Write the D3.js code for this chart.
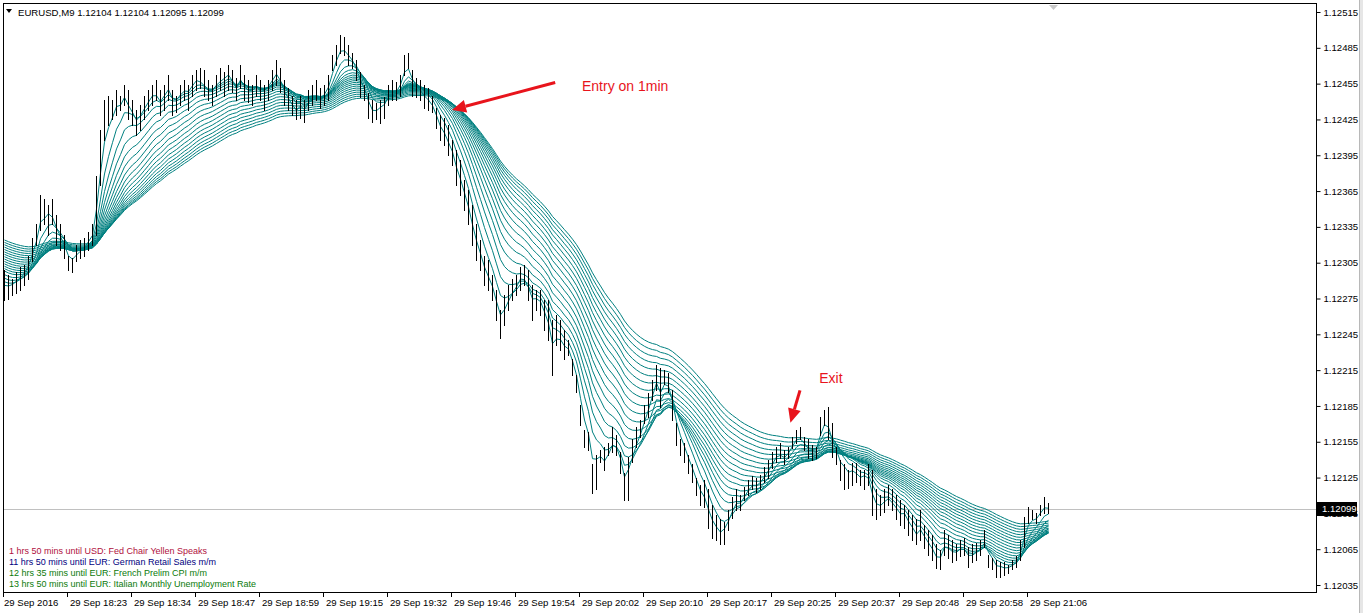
<!DOCTYPE html>
<html>
<head>
<meta charset="utf-8">
<script src="https://cdn.jsdelivr.net/npm/d3@7/dist/d3.min.js"></script>
<style>
    body { margin: 0; background: #fff; overflow: hidden; }
    svg { display: block; font-family: "Liberation Sans", Arial, sans-serif; }
</style>
</head>
<body>
<svg class="chart"></svg>
<script>

// EURUSD,M9 bars (one entry per bar, left to right)
var highs = [
    1.12299,1.12295,1.12291,1.12297,1.12301,1.12303,1.12311,1.12326,1.12337,1.12362,
    1.12358,1.12353,1.12358,1.12345,1.12337,1.12328,1.12311,1.12309,1.12320,1.12324,
    1.12326,1.12331,1.12337,1.12378,1.12416,1.12441,1.12445,1.12441,1.12450,1.12445,
    1.12454,1.12450,1.12441,1.12433,1.12437,1.12445,1.12450,1.12454,1.12458,1.12450,
    1.12454,1.12462,1.12450,1.12445,1.12454,1.12458,1.12454,1.12462,1.12466,1.12468,
    1.12466,1.12458,1.12454,1.12462,1.12468,1.12465,1.12471,1.12466,1.12460,1.12471,
    1.12462,1.12458,1.12454,1.12462,1.12458,1.12454,1.12458,1.12466,1.12475,1.12468,
    1.12458,1.12451,1.12445,1.12441,1.12445,1.12441,1.12450,1.12454,1.12458,1.12451,
    1.12454,1.12462,1.12479,1.12487,1.12496,1.12494,1.12487,1.12481,1.12475,1.12465,
    1.12454,1.12447,1.12441,1.12439,1.12441,1.12444,1.12454,1.12458,1.12456,1.12462,
    1.12479,1.12481,1.12466,1.12460,1.12458,1.12454,1.12451,1.12445,1.12435,1.12429,
    1.12426,1.12420,1.12408,1.12399,1.12391,1.12374,1.12366,1.12353,1.12337,1.12324,
    1.12311,1.12307,1.12295,1.12282,1.12265,1.12278,1.12286,1.12291,1.12295,1.12301,
    1.12303,1.12299,1.12286,1.12282,1.12282,1.12274,1.12274,1.12257,1.12261,1.12257,
    1.12249,1.12240,1.12224,1.12211,1.12186,1.12165,1.12163,1.12136,1.12144,1.12148,
    1.12151,1.12154,1.12167,1.12161,1.12146,1.12129,1.12142,1.12157,1.12167,1.12173,
    1.12186,1.12196,1.12207,1.12219,1.12217,1.12215,1.12213,1.12198,1.12171,1.12157,
    1.12154,1.12144,1.12136,1.12125,1.12119,1.12123,1.12115,1.12102,1.12094,1.12090,
    1.12088,1.12098,1.12109,1.12115,1.12110,1.12117,1.12123,1.12126,1.12125,1.12127,
    1.12134,1.12140,1.12146,1.12151,1.12154,1.12148,1.12151,1.12159,1.12165,1.12167,
    1.12159,1.12157,1.12152,1.12151,1.12176,1.12182,1.12184,1.12171,1.12151,1.12140,
    1.12136,1.12131,1.12137,1.12137,1.12131,1.12131,1.12136,1.12131,1.12115,1.12110,
    1.12115,1.12119,1.12115,1.12110,1.12106,1.12102,1.12098,1.12094,1.12090,1.12098,
    1.12085,1.12081,1.12077,1.12069,1.12064,1.12081,1.12077,1.12073,1.12069,1.12073,
    1.12074,1.12067,1.12069,1.12070,1.12073,1.12081,1.12060,1.12058,1.12056,1.12054,
    1.12054,1.12052,1.12056,1.12059,1.12073,1.12092,1.12100,1.12098,1.12095,1.12102,
    1.12109,1.12104
];
var lows = [
    1.12274,1.12275,1.12278,1.12280,1.12282,1.12286,1.12291,1.12306,1.12320,1.12332,
    1.12337,1.12328,1.12337,1.12320,1.12316,1.12309,1.12299,1.12297,1.12306,1.12309,
    1.12311,1.12316,1.12320,1.12328,1.12370,1.12408,1.12420,1.12425,1.12429,1.12433,
    1.12437,1.12425,1.12420,1.12412,1.12416,1.12425,1.12433,1.12437,1.12441,1.12429,
    1.12433,1.12441,1.12429,1.12431,1.12437,1.12441,1.12433,1.12445,1.12450,1.12451,
    1.12445,1.12441,1.12437,1.12445,1.12450,1.12445,1.12450,1.12448,1.12441,1.12451,
    1.12441,1.12440,1.12437,1.12445,1.12441,1.12433,1.12441,1.12450,1.12454,1.12448,
    1.12437,1.12433,1.12429,1.12425,1.12426,1.12423,1.12433,1.12437,1.12441,1.12435,
    1.12437,1.12441,1.12466,1.12471,1.12481,1.12479,1.12471,1.12468,1.12458,1.12444,
    1.12441,1.12426,1.12423,1.12425,1.12422,1.12426,1.12437,1.12441,1.12441,1.12445,
    1.12462,1.12468,1.12445,1.12444,1.12441,1.12435,1.12433,1.12431,1.12418,1.12408,
    1.12404,1.12395,1.12387,1.12370,1.12362,1.12349,1.12337,1.12320,1.12307,1.12299,
    1.12286,1.12282,1.12274,1.12257,1.12242,1.12253,1.12265,1.12274,1.12278,1.12282,
    1.12286,1.12274,1.12257,1.12265,1.12261,1.12249,1.12240,1.12211,1.12236,1.12232,
    1.12224,1.12228,1.12211,1.12197,1.12169,1.12151,1.12148,1.12112,1.12115,1.12138,
    1.12131,1.12144,1.12146,1.12144,1.12129,1.12106,1.12106,1.12138,1.12151,1.12159,
    1.12171,1.12176,1.12190,1.12198,1.12184,1.12203,1.12197,1.12173,1.12152,1.12144,
    1.12138,1.12129,1.12121,1.12110,1.12102,1.12100,1.12083,1.12074,1.12073,1.12069,
    1.12069,1.12081,1.12091,1.12098,1.12098,1.12106,1.12110,1.12115,1.12113,1.12115,
    1.12121,1.12125,1.12133,1.12138,1.12141,1.12136,1.12141,1.12150,1.12154,1.12157,
    1.12148,1.12141,1.12140,1.12141,1.12161,1.12169,1.12157,1.12142,1.12136,1.12123,
    1.12115,1.12116,1.12119,1.12121,1.12119,1.12115,1.12119,1.12094,1.12090,1.12094,
    1.12096,1.12102,1.12098,1.12090,1.12085,1.12083,1.12077,1.12073,1.12069,1.12073,
    1.12066,1.12060,1.12056,1.12049,1.12048,1.12060,1.12058,1.12054,1.12056,1.12059,
    1.12060,1.12050,1.12054,1.12056,1.12060,1.12067,1.12050,1.12048,1.12042,1.12042,
    1.12043,1.12045,1.12048,1.12050,1.12056,1.12067,1.12087,1.12090,1.12087,1.12094,
    1.12095,1.12095
];
var closes = [
    1.12280,1.12285,1.12288,1.12292,1.12296,1.12300,1.12308,1.12322,1.12334,1.12355,
    1.12345,1.12350,1.12340,1.12325,1.12320,1.12312,1.12302,1.12305,1.12315,1.12318,
    1.12320,1.12328,1.12333,1.12372,1.12410,1.12432,1.12430,1.12435,1.12445,1.12438,
    1.12450,1.12430,1.12425,1.12418,1.12432,1.12440,1.12445,1.12450,1.12445,1.12435,
    1.12450,1.12455,1.12435,1.12440,1.12450,1.12452,1.12448,1.12458,1.12462,1.12455,
    1.12450,1.12445,1.12450,1.12458,1.12460,1.12462,1.12465,1.12452,1.12445,1.12465,
    1.12448,1.12445,1.12450,1.12455,1.12445,1.12450,1.12456,1.12463,1.12468,1.12452,
    1.12440,1.12436,1.12432,1.12428,1.12440,1.12430,1.12445,1.12448,1.12445,1.12440,
    1.12450,1.12458,1.12475,1.12485,1.12490,1.12483,1.12475,1.12470,1.12460,1.12448,
    1.12444,1.12430,1.12425,1.12432,1.12438,1.12440,1.12450,1.12445,1.12452,1.12460,
    1.12475,1.12470,1.12450,1.12448,1.12445,1.12440,1.12438,1.12432,1.12420,1.12410,
    1.12408,1.12398,1.12390,1.12372,1.12365,1.12352,1.12340,1.12322,1.12310,1.12302,
    1.12290,1.12285,1.12277,1.12260,1.12250,1.12270,1.12280,1.12286,1.12290,1.12298,
    1.12290,1.12278,1.12265,1.12275,1.12270,1.12255,1.12245,1.12220,1.12245,1.12240,
    1.12230,1.12230,1.12213,1.12199,1.12172,1.12155,1.12150,1.12120,1.12140,1.12145,
    1.12135,1.12150,1.12160,1.12148,1.12132,1.12110,1.12138,1.12152,1.12163,1.12170,
    1.12182,1.12192,1.12205,1.12215,1.12188,1.12210,1.12200,1.12176,1.12155,1.12148,
    1.12142,1.12132,1.12124,1.12114,1.12105,1.12103,1.12088,1.12080,1.12078,1.12075,
    1.12085,1.12095,1.12105,1.12110,1.12104,1.12114,1.12120,1.12122,1.12118,1.12124,
    1.12130,1.12136,1.12142,1.12148,1.12145,1.12140,1.12149,1.12157,1.12162,1.12158,
    1.12150,1.12145,1.12148,1.12150,1.12172,1.12178,1.12165,1.12145,1.12140,1.12128,
    1.12130,1.12125,1.12132,1.12126,1.12122,1.12128,1.12122,1.12098,1.12095,1.12100,
    1.12108,1.12110,1.12100,1.12095,1.12090,1.12095,1.12082,1.12078,1.12072,1.12085,
    1.12070,1.12065,1.12060,1.12052,1.12058,1.12075,1.12065,1.12060,1.12062,1.12068,
    1.12064,1.12055,1.12060,1.12065,1.12068,1.12075,1.12055,1.12052,1.12045,1.12050,
    1.12048,1.12050,1.12053,1.12057,1.12070,1.12088,1.12095,1.12093,1.12092,1.12100,
    1.12104,1.12099
];

// moving average ribbon: periods and the level of each line at the first bar
var maPeriods = [3, 6, 9, 12, 15, 18, 21, 24, 27, 30, 33, 36, 39, 42, 45, 48, 51, 54];
var maStart = [1.12286, 1.12289, 1.12292, 1.12295, 1.12298, 1.12300, 1.12302, 1.12304, 1.12306,
               1.12308, 1.12310, 1.12312, 1.12314, 1.12316, 1.12318, 1.12320, 1.12322, 1.12324];

var priceTicks = [1.12515, 1.12485, 1.12455, 1.12425, 1.12395, 1.12365, 1.12335, 1.12305, 1.12275,
                  1.12245, 1.12215, 1.12185, 1.12155, 1.12125, 1.12095, 1.12065, 1.12035];
var timeLabels = ["29 Sep 2016", "29 Sep 18:23", "29 Sep 18:34", "29 Sep 18:47", "29 Sep 18:59",
                  "29 Sep 19:15", "29 Sep 19:32", "29 Sep 19:46", "29 Sep 19:54", "29 Sep 20:02",
                  "29 Sep 20:10", "29 Sep 20:17", "29 Sep 20:25", "29 Sep 20:37", "29 Sep 20:48",
                  "29 Sep 20:58", "29 Sep 21:06"];
var barsPerLabel = 16;

var lastPrice = 1.12099;
var header = "EURUSD,M9  1.12104 1.12104 1.12095 1.12099";

var newsLines = [
    {text: "1 hrs 50 mins until USD: Fed Chair Yellen Speaks", color: "#b01040"},
    {text: "11 hrs 50 mins until EUR: German Retail Sales m/m", color: "#000080"},
    {text: "12 hrs 35 mins until EUR: French Prelim CPI m/m", color: "#0a7a0a"},
    {text: "13 hrs 50 mins until EUR: Italian Monthly Unemployment Rate", color: "#0a7a0a"}
];

// hand drawn notes: arrow tail / tip given as [bar, price]
var notes = [
    {text: "Entry on 1min", label: [144.5, 1.12453], tail: [137.8, 1.12456], tip: [112, 1.12433]},
    {text: "Exit", label: [203.8, 1.12208], tail: [199, 1.12198], tip: [196.6, 1.12171]}
];


var width = 1363, height = 613;
var frame = {left: 3, top: 3, right: 1316, bottom: 592};

var svg = d3.select(".chart")
    .attr("width", width)
    .attr("height", height);

var x = d3.scaleLinear().domain([0, highs.length - 1]).range([4, 4 + 4 * (highs.length - 1)]);
var y = d3.scaleLinear().domain([1.12035, 1.12515]).range([585, 12]);

// window edge on the right
svg.append("rect").attr("x", 1359).attr("y", 0).attr("width", 4).attr("height", height).attr("fill", "#e6e6e6");
svg.append("line").attr("x1", 1359.5).attr("x2", 1359.5).attr("y1", 0).attr("y2", height).attr("stroke", "#b8b8b8");

var plot = svg.append("g");

// current price line
plot.append("line")
    .attr("x1", frame.left).attr("x2", frame.right)
    .attr("y1", Math.round(y(lastPrice)) + 0.5).attr("y2", Math.round(y(lastPrice)) + 0.5)
    .attr("stroke", "#c0c0c0");

// ribbon, each line an EMA of the closes
var ribbon = maPeriods.map(function(p, k) {
    var a = 2 / (p + 1), v = maStart[k];
    return closes.map(function(c, i) {
        if (i > 0) v = v + a * (c - v);
        return v;
    });
});

var line = d3.line()
    .x(function(d, i) { return x(i) + 0.5; })
    .y(function(d) { return y(d); });

plot.append("g")
    .selectAll("path")
    .data(ribbon.slice().reverse())
    .enter().append("path")
    .attr("d", line)
    .attr("fill", "none")
    .attr("stroke", "#008080")
    .attr("stroke-width", 1);

// bars: plain high-low sticks
plot.append("g")
    .attr("fill", "#000")
    .attr("shape-rendering", "crispEdges")
    .selectAll("rect")
    .data(closes)
    .enter().append("rect")
    .attr("x", function(d, i) { return Math.round(x(i)); })
    .attr("y", function(d, i) { return Math.round(y(highs[i])); })
    .attr("width", 1)
    .attr("height", function(d, i) { return Math.max(1, Math.round(y(lows[i])) - Math.round(y(highs[i])) + 1); });

// notes with red arrows
var red = "#e8141c";
notes.forEach(function(n) {
    var x1 = x(n.tail[0]), y1 = y(n.tail[1]), x2 = x(n.tip[0]), y2 = y(n.tip[1]);
    var ang = Math.atan2(y2 - y1, x2 - x1), len = 14, half = 6.5;
    var bx = x2 - len * Math.cos(ang), by = y2 - len * Math.sin(ang);
    plot.append("line")
        .attr("x1", x1).attr("y1", y1).attr("x2", bx).attr("y2", by)
        .attr("stroke", red).attr("stroke-width", 3);
    plot.append("path")
        .attr("d", "M" + x2 + "," + y2 +
            "L" + (bx + half * Math.sin(ang)) + "," + (by - half * Math.cos(ang)) +
            "L" + (bx - half * Math.sin(ang)) + "," + (by + half * Math.cos(ang)) + "Z")
        .attr("fill", red);
    plot.append("text")
        .attr("x", x(n.label[0])).attr("y", y(n.label[1]))
        .attr("dy", "0.35em")
        .attr("fill", red)
        .style("font-size", "14px")
        .text(n.text);
});

// news lines bottom left
plot.append("g")
    .selectAll("text")
    .data(newsLines)
    .enter().append("text")
    .attr("x", 9)
    .attr("y", function(d, i) { return 554 + i * 11; })
    .attr("fill", function(d) { return d.color; })
    .style("font-size", "9px")
    .text(function(d) { return d.text; });

// header
svg.append("path").attr("d", "M6,9 L12,9 L9,13 Z").attr("fill", "#000");
svg.append("text").attr("x", 18).attr("y", 16).style("font-size", "9.6px").text(header);
svg.append("path").attr("d", "M1049,5 L1058,5 L1053.5,10 Z").attr("fill", "#c8c8c8");

// frame
svg.append("rect")
    .attr("x", frame.left + 0.5).attr("y", frame.top + 0.5)
    .attr("width", frame.right - frame.left).attr("height", frame.bottom - frame.top)
    .attr("fill", "none").attr("stroke", "#000").attr("shape-rendering", "crispEdges");

// price axis
var yAxis = svg.append("g")
    .attr("transform", "translate(" + (frame.right + 0.5) + ",0)")
    .call(d3.axisRight(y).tickValues(priceTicks).tickSize(4).tickPadding(3).tickFormat(d3.format(".5f")));
yAxis.select(".domain").remove();
yAxis.selectAll("text").attr("fill", "#000").style("font-size", "9.6px").attr("font-family", null);
yAxis.selectAll("line").attr("stroke", "#000");

// last price label (covers the 1.12095 tick label, as in the terminal)
var ly = Math.round(y(lastPrice));
svg.append("rect").attr("x", frame.right + 1).attr("y", ly - 7).attr("width", 40).attr("height", 14).attr("fill", "#000");
svg.append("text").attr("x", frame.right + 6).attr("y", ly).attr("dy", "0.35em")
    .attr("fill", "#fff").style("font-size", "9.6px").text(d3.format(".5f")(lastPrice));

// time axis
var tick = d3.scaleLinear().domain([0, highs.length - 1]).range([3, 3 + 4 * (highs.length - 1)]);
var tAxis = svg.append("g").attr("shape-rendering", "crispEdges");
tAxis.selectAll("line")
    .data(timeLabels)
    .enter().append("line")
    .attr("x1", function(d, i) { return tick(i * barsPerLabel) + 0.5; })
    .attr("x2", function(d, i) { return tick(i * barsPerLabel) + 0.5; })
    .attr("y1", frame.bottom).attr("y2", frame.bottom + 5)
    .attr("stroke", "#000");
tAxis.selectAll("text")
    .data(timeLabels)
    .enter().append("text")
    .attr("x", function(d, i) { return tick(i * barsPerLabel) + (i === 0 ? 1 : 3); })
    .attr("y", 606)
    .style("font-size", "9.6px")
    .text(function(d) { return d; });

</script>
</body>
</html>
